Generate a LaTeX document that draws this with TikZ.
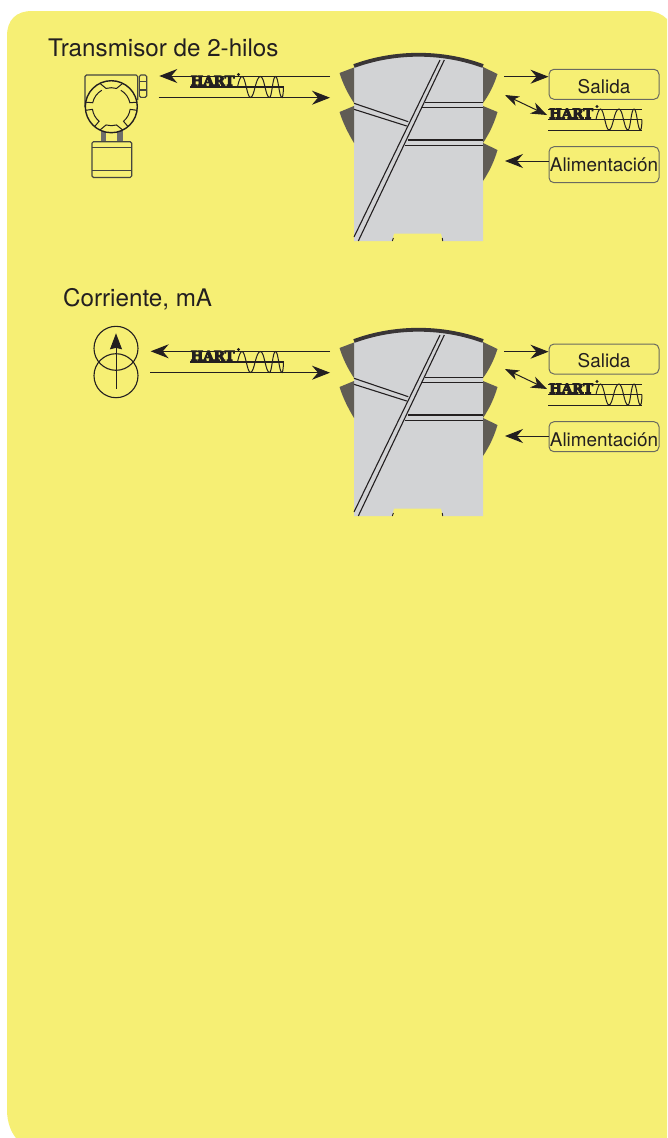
\documentclass[tikz,border=0pt]{standalone}
\usepackage{fontspec}
\setmainfont{TeX Gyre Heros}
\newfontface\hartfont[FakeBold=7]{DejaVu Serif Bold}
\usetikzlibrary{arrows.meta}
\definecolor{panelyellow}{HTML}{F6EF74}
\definecolor{inkc}{HTML}{231F20}
\definecolor{bodygray}{HTML}{D2D3D5}
\definecolor{tabgray}{HTML}{605C55}
\definecolor{edgegray}{HTML}{6A6A60}
\definecolor{stemgray}{HTML}{6E6E6A}
\definecolor{outlinec}{HTML}{45453F}
\newcommand{\dropby}[2]{\raisebox{-#1}[\height][\depth]{#2}}
\tikzset{
  thinline/.style={draw=inkc,line width=1.1pt},
  flow/.style={draw=inkc,line width=1pt,-{Stealth[length=18pt,width=14pt,inset=6pt]}},
  flowboth/.style={draw=inkc,line width=1pt,{Stealth[length=14pt,width=10pt,inset=4pt]}-{Stealth[length=16pt,width=12pt,inset=5pt]}},
  labelbox/.style={draw=edgegray,line width=1pt,rounded corners=5pt,fill=none,minimum width=110pt,inner sep=0pt,text=inkc,font=\fontsize{18.9}{20}\selectfont},
  heading/.style={anchor=base west,inner sep=0pt,text=inkc,font=\fontsize{24.2}{28}\selectfont},
  hartword/.style={anchor=base west,inner sep=0pt,text=inkc,font=\hartfont\fontsize{13.4}{14}\selectfont},
  tab/.style={fill=tabgray,draw=none},
  module/.pic={
    \fill[bodygray] (354,66) .. controls (395,51) and (442,51) .. (483,66) -- (483,241) -- (443,241) -- (441,233.5) -- (394,233.5) -- (392,241) -- (354,241) -- cycle;
    \draw[inkc!90!white,line width=3.8pt] (354,66) .. controls (395,51) and (442,51) .. (483,66);
    \draw[inkc,line width=0.9pt] (392.3,241) -- (393.4,238) (442.8,241) -- (442.2,238);
    \fill[tab] (339.5,73) -- (354,67.5) -- (354,103) .. controls (348,94) and (343,84) .. cycle;
    \fill[tab] (339.5,112) -- (354,106) -- (354,143) .. controls (348,133) and (343,123) .. cycle;
    \fill[tab] (483,67) -- (497.5,74) .. controls (494,85) and (489,95) .. (483,103) -- cycle;
    \fill[tab] (483,106) -- (497.5,112) .. controls (494,124) and (489,134) .. (483,143) -- cycle;
    \fill[tab] (483,143) -- (497.5,150) .. controls (494,162) and (489,172) .. (483,181) -- cycle;
    \draw[thinline] (440,60) -- (354,237);
    \draw[thinline] (444.3,60) -- (358.3,241);
    \draw[thinline] (354,103.3) -- (408.3,121.7);
    \draw[thinline] (354,109.3) -- (406.7,126);
    \draw[thinline] (425,102.3) -- (483,102.3);
    \draw[thinline] (421.7,107.7) -- (483,107.7);
    \draw[thinline] (408.3,140) -- (483,140);
    \draw[thinline] (405,145.3) -- (483,145.3);
  },
  wave/.pic={
    \draw[inkc,line width=1pt] (0,0) .. controls (1.5,-7) and (3,-10.5) .. (4.5,-10.5)
      .. controls (8,-10.5) and (9.5,10.5) .. (13,10.5)
      .. controls (17,10.5) and (18,-10.5) .. (23,-10.5)
      .. controls (27,-10.5) and (28,10.5) .. (32,10.5)
      .. controls (34.5,10.5) and (35,-10.5) .. (38,-10.5)
      .. controls (41,-10.5) and (41.5,10.5) .. (44.5,10.5)
      .. controls (45.5,10.5) and (46,3) .. (46,0);
  },
}
\begin{document}
\begin{tikzpicture}[x=1pt,y=-1pt]
\useasboundingbox (0,0) rectangle (667,1138);
\fill[white] (0,0) rectangle (667,1138);
\fill[panelyellow] (667,1138) -- (16,1138) .. controls (11,1132) and (7,1122) .. (7,1110) -- (7,36) .. controls (7,20) and (16,11) .. (32,11) -- (647,11) .. controls (655,11) and (662,14) .. (667,19) -- cycle;

% --- headings
\node[heading] (h1) at (48,56) {Transmisor de 2-hilos};
\node[heading] (h2) at (63,306) {Corriente, mA};

% --- modules
\pic {module};
\begin{scope}[yshift=-275pt]
\pic {module};
\end{scope}

% --- transmitter
\fill[stemgray] (100.7,130) rectangle (106,142);
\fill[stemgray] (116.7,130) rectangle (122.7,142);
\draw[outlinec,line width=1.1pt,rounded corners=1.5pt] (85,107) -- (85,75) -- (137.7,75) -- (137.7,100);
\draw[outlinec,line width=1.1pt,rounded corners=1.5pt] (139.3,75) rectangle (146.7,97.3);
\draw[outlinec,line width=1.1pt] (139.3,81.7) -- (146.7,81.7) (139.3,90) -- (146.7,90);
\draw[outlinec,line width=1.1pt,rounded corners=1.5pt] (92,141.7) rectangle (131.7,177.5);
\draw[outlinec,line width=1.1pt] (92,147.7) -- (131.7,147.7) (92,170.7) -- (131.7,170.7);
\fill[panelyellow] (111.3,106.7) circle[radius=26];
\draw[inkc,line width=1.4pt] (111.3,106.7) circle[radius=26];
\begin{scope}[shift={(111.3,106.7)},y=1pt]
\draw[inkc,line width=1pt] (116:26) -- (106:19) arc[start angle=106,end angle=74,radius=19] -- (64:26);
\draw[inkc,line width=1pt] (-116:26) -- (-106:19) arc[start angle=-106,end angle=-74,radius=19] -- (-64:26);
\draw[inkc,line width=1pt] (60:19) arc[start angle=60,end angle=12,radius=19] -- (10:26);
\draw[inkc,line width=1pt] (120:19) arc[start angle=120,end angle=168,radius=19] -- (170:26);
\draw[inkc,line width=1pt] (-50:26) -- (-50:19) arc[start angle=-50,end angle=-8,radius=19] -- (-8:26);
\draw[inkc,line width=1pt] (-130:26) -- (-130:19) arc[start angle=-130,end angle=-172,radius=19] -- (-172:26);
\end{scope}

% --- current source
\draw[inkc,line width=1.1pt] (116,348.3) circle[radius=22];
\draw[inkc,line width=1.1pt] (116,375.7) circle[radius=22];
\coordinate (srcA) at (116,388.5);
\coordinate (srcB) at (116,333.3);
\draw[draw=inkc,line width=1pt,-{Stealth[length=16pt,width=12pt,inset=1.5pt]}] (srcA) -- (srcB);

% --- left flow arrows
\coordinate (m1a) at (330,76);
\coordinate (t1a) at (159.3,76);
\coordinate (t1b) at (158.5,97.7);
\coordinate (m1b) at (330,97.7);
\draw[flow] (m1a) -- (t1a);
\draw[flow] (t1b) -- (m1b);
\coordinate (m2a) at (330,351.3);
\coordinate (t2a) at (150.7,351.3);
\coordinate (t2b) at (150,372.7);
\coordinate (m2b) at (330,372.7);
\draw[flow] (m2a) -- (t2a);
\draw[flow] (t2b) -- (m2b);

% --- left HART marks
\node[hartword] (hl1) at (190.5,85.6) {HART};
\node[hartword] (hl2) at (190.5,360.6) {HART};
\draw[inkc,line width=1.4pt] (190,87) -- (284,87);
\draw[inkc,line width=1.4pt] (190,362) -- (284,362);
\fill[inkc] (238.5,74.5) circle[radius=1.6];
\fill[inkc] (238.5,349.5) circle[radius=1.6];
\pic at (237.5,87) {wave};
\pic at (237.5,362) {wave};

% --- right labels
\node[labelbox,minimum height=30pt] (sal1) at (604,84.3) {\dropby{2.4pt}{Salida}};
\node[labelbox,minimum height=36pt] (ali1) at (604,164.7) {Alimentación};
\node[labelbox,minimum height=30pt] (sal2) at (604,359) {\dropby{1.7pt}{Salida}};
\node[labelbox,minimum height=30pt] (ali2) at (604,436.7) {\dropby{3.3pt}{Alimentación}};

\coordinate (q1a) at (504,76.7);
\coordinate (q1b) at (505,161);
\coordinate (q1c) at (505,95);
\coordinate (hr1) at (547,115);
\draw[flow] (q1a) -- (sal1.west |- q1a);
\draw[flow] (ali1.west |- q1b) -- (q1b);
\draw[flowboth] (q1c) -- (hr1);
\coordinate (q2a) at (504,351.7);
\coordinate (q2b) at (505,436);
\coordinate (q2c) at (505,369);
\coordinate (hr2) at (547,389);
\draw[flow] (q2a) -- (sal2.west |- q2a);
\draw[flow] (ali2.west |- q2b) -- (q2b);
\draw[flowboth] (q2c) -- (hr2);

% --- right HART marks
\node[hartword] (hr1t) at (549,118.3) {HART};
\node[hartword] (hr2t) at (549,393.3) {HART};
\draw[inkc,line width=0.9pt] (548,109) -- (642,109);
\draw[inkc,line width=1.4pt] (548,119.5) -- (642,119.5);
\draw[inkc,line width=0.9pt] (548,130) -- (642,130);
\draw[inkc,line width=0.9pt] (548,384) -- (642,384);
\draw[inkc,line width=1.4pt] (548,394.5) -- (642,394.5);
\draw[inkc,line width=0.9pt] (548,405) -- (642,405);
\fill[inkc] (597,106.5) circle[radius=1.6];
\fill[inkc] (597,381.5) circle[radius=1.6];
\pic at (596,119.5) {wave};
\pic at (596,394.5) {wave};
\end{tikzpicture}
\end{document}
